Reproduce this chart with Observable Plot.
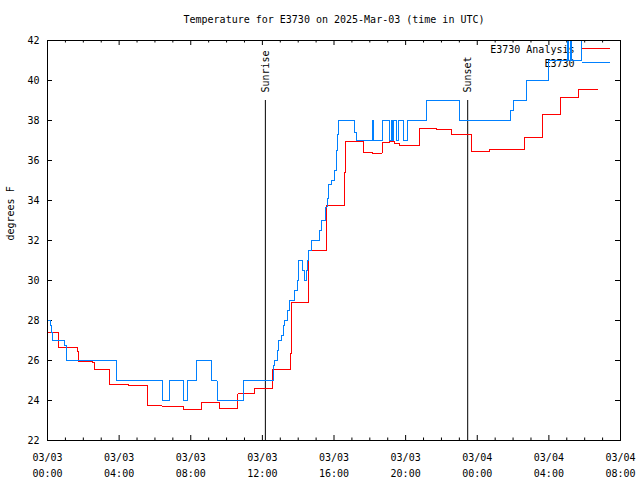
<!DOCTYPE html>
<html>
<head>
<meta charset="utf-8">
<script src="https://cdn.jsdelivr.net/npm/d3@7"></script>
<script src="https://cdn.jsdelivr.net/npm/@observablehq/plot@0.6"></script>
<style>
  html, body { margin: 0; padding: 0; background: #fff; }
</style>
</head>
<body>
<div id="chart"></div>
<script>
// ---------------- data ----------------
const chartTitle = "Temperature for E3730 on 2025-Mar-03 (time in UTC)";
const yLabel = "degrees F";
const seriesNames = ["E3730 Analysis", "E3730"];

const analysisTimes = [
  "03T00:00","03T00:38","03T01:40","03T01:44","03T02:32","03T02:37","03T03:28","03T04:31",
  "03T05:34","03T06:24","03T07:37","03T08:36","03T09:36","03T10:38","03T11:34","03T12:35",
  "03T13:34","03T13:38","03T14:36","03T15:36","03T16:36","03T16:40","03T17:38","03T18:08",
  "03T18:41","03T19:07","03T19:24","03T19:40","03T20:47","03T21:43","03T22:33","03T23:40",
  "04T00:42","04T02:38","04T03:40","04T04:39","04T05:40","04T06:42"
];
const analysisTemps = [
  27.38,26.63,26.45,25.95,25.88,25.53,24.78,24.73,
  23.73,23.68,23.53,23.88,23.58,24.33,24.58,25.53,
  26.33,28.92,31.5,33.75,35.4,36.95,36.42,36.37,
  36.88,36.95,36.85,36.75,37.58,37.53,37.28,36.45,
  36.53,37.13,38.3,39.13,39.55,39.55
];

const obsTimes = [
  "03T00:00","03T00:10","03T00:15","03T00:18","03T00:57","03T01:03","03T03:50","03T06:24",
  "03T06:49","03T07:36","03T07:48","03T08:19","03T09:08","03T09:28","03T10:57","03T12:36",
  "03T12:38","03T12:42","03T12:50","03T12:55","03T13:04","03T13:10","03T13:15","03T13:23",
  "03T13:31","03T13:49","03T13:57","03T14:02","03T14:13","03T14:22","03T14:27","03T14:30",
  "03T14:36","03T14:44","03T15:13","03T15:17","03T15:32","03T15:37","03T15:42","03T15:52",
  "03T16:03","03T16:07","03T16:11","03T16:16","03T17:10","03T17:14","03T18:08","03T18:11",
  "03T18:41","03T19:06","03T19:12","03T19:16","03T19:20","03T19:30","03T19:37","03T19:52",
  "03T20:05","03T21:09","03T22:59","04T01:52","04T02:01","04T02:44","04T04:00","04T05:01",
  "04T05:06","04T05:12","04T05:17","04T05:48","04T06:42"
];
const obsTemps = [
  28,27.75,27.4,27,26.75,26,25,24,
  25,24,25,26,25,24,25,25.25,
  25.75,26,26.5,27,27.25,27.75,28,28.5,
  29,29.5,30,31,30.5,30,30.5,31,
  31.5,32,32.5,33,33.67,34.1,34.8,35,
  35.5,36.5,37.3,38,37.4,37,38,37,
  38,37,38,37,38,37,38,37,
  38,39,38,38.5,39,40,41,42,
  41,42,41,42,42
];

const sunEvents = [
  {time: "03T12:10", label: "Sunrise"},
  {time: "03T23:28", label: "Sunset"}
];

const xTicks = ["03T00:00","03T04:00","03T08:00","03T12:00","03T16:00","03T20:00","04T00:00","04T04:00","04T08:00"];
const yTicks = [22,24,26,28,30,32,34,36,38,40,42];

// ---------------- build ----------------
const parseT = s => new Date("2025-03-" + s + "Z");
const analysis = analysisTimes.map((t, i) => ({time: parseT(t), temp: analysisTemps[i]}));
const obs = obsTimes.map((t, i) => ({time: parseT(t), temp: obsTemps[i]}));
const suns = sunEvents.map(d => ({time: parseT(d.time), label: d.label}));
const majorX = xTicks.map(parseT);
const xStart = majorX[0], xEnd = majorX[majorX.length - 1];
const minorX = d3.utcHour.range(xStart, xEnd).filter(d => d.getUTCHours() % 4 !== 0);

const W = 640, H = 480, mL = 47, mR = 20, mT = 40, mB = 40;
const fw = W - mL - mR, fh = H - mT - mB;
const font = "'DejaVu Sans Mono', monospace";
const RED = "#ff0000", BLUE = "#0080ff";
const fmt = d3.utcFormat("%m/%d\n%H:%M");

const legendLines = (index, scales, values, dims) => {
  const g = d3.create("svg:g");
  const x2 = dims.width - dims.marginRight - 10;
  const x1 = x2 - 28;
  [[RED, dims.marginTop + 8.5], [BLUE, dims.marginTop + 22.5]].forEach(([c, y]) => {
    g.append("line").attr("x1", x1).attr("x2", x2).attr("y1", y).attr("y2", y)
      .attr("stroke", c).attr("stroke-width", 1);
  });
  return g.node();
};

const plot = Plot.plot({
  width: W, height: H,
  marginLeft: mL, marginRight: mR, marginTop: mT, marginBottom: mB,
  style: {fontFamily: font, fontSize: "10px", background: "white", color: "black", overflow: "visible"},
  x: {type: "utc", domain: [xStart, xEnd], axis: null},
  y: {domain: [22, 42], axis: null},
  marks: [
    // title & axis labels
    Plot.text([chartTitle], {text: d => d, frameAnchor: "top", dy: -21, lineAnchor: "middle", fill: "black"}),
    Plot.text([yLabel], {text: d => d, frameAnchor: "left", dx: -37, rotate: -90, lineAnchor: "middle", fill: "black"}),
    // y tick labels
    Plot.text(yTicks, {y: d => d, text: d => String(d), frameAnchor: "left", dx: -8, textAnchor: "end", lineAnchor: "middle", fill: "black"}),
    // x tick labels
    Plot.text(majorX, {x: d => d, text: d => fmt(d), frameAnchor: "bottom", dy: 9, lineAnchor: "top", lineHeight: 1.6, fill: "black"}),
    // ticks (inward, mirrored)
    Plot.tickX(majorX, {x: d => d, insetTop: fh - 5, stroke: "black"}),
    Plot.tickX(majorX, {x: d => d, insetBottom: fh - 5, stroke: "black"}),
    Plot.tickX(minorX, {x: d => d, insetTop: fh - 2.5, stroke: "black"}),
    Plot.tickX(minorX, {x: d => d, insetBottom: fh - 2.5, stroke: "black"}),
    Plot.tickY(yTicks, {y: d => d, insetRight: fw - 5, stroke: "black"}),
    Plot.tickY(yTicks, {y: d => d, insetLeft: fw - 5, stroke: "black"}),
    // sunrise / sunset
    Plot.ruleX(suns, {x: "time", insetTop: 60, stroke: "black"}),
    Plot.text(suns, {x: "time", text: "label", frameAnchor: "top", dy: 52, rotate: -90, textAnchor: "start", lineAnchor: "middle", fill: "black"}),
    // legend text
    Plot.text([seriesNames[0]], {text: d => d, frameAnchor: "top-right", dx: -46, dy: 9, textAnchor: "end", lineAnchor: "middle", fill: "black"}),
    Plot.text([seriesNames[1]], {text: d => d, frameAnchor: "top-right", dx: -46, dy: 23, textAnchor: "end", lineAnchor: "middle", fill: "black"}),
    legendLines,
    // data
    Plot.line(analysis, {x: "time", y: "temp", stroke: RED, strokeWidth: 1, curve: "step-after", shapeRendering: "crispEdges"}),
    Plot.line(obs, {x: "time", y: "temp", stroke: BLUE, strokeWidth: 1, curve: "step-after", shapeRendering: "crispEdges"}),
    Plot.frame({stroke: "black", strokeWidth: 1})
  ]
});
document.getElementById("chart").appendChild(plot);
</script>
</body>
</html>
